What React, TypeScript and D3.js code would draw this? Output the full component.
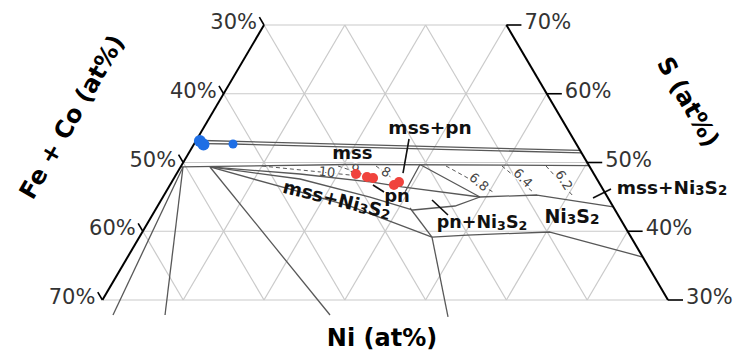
import React, { useEffect, useRef } from "react";
import * as d3 from "d3";

// all compositions are [Ni, S] in at%, Fe+Co is the remainder
type Pt = [number, number];

const sTicks = [30, 40, 50, 60, 70];
const gridSteps = [10, 20, 30, 40, 50, 60];

const blueSamples = [
  { c: [0.5, 53.13] as Pt, r: 6 },
  { c: [1.2, 52.62] as Pt, r: 6 },
  { c: [4.82, 52.69] as Pt, r: 4.5 },
];

const redSamples: Pt[] = [
  [22.22, 48.33],
  [23.8, 47.89],
  [24.62, 47.75],
  [27.72, 46.73],
  [28.13, 47.16],
];

const mssUpperLines: Pt[][] = [
  [[0.85, 53.2], [48.25, 51.75]],
  [[1.13, 52.76], [4.82, 52.69], [48.6, 51.4]],
];

const mssLowerLine: Pt[] = [[0, 49.35], [20.79, 49.71], [50.44, 49.56]];

const fanLines: Pt[][] = [
  [[0.3, 49.35], [2.4, 27.82]],
  [[0.3, 49.35], [8.84, 27.82]],
  [[3.64, 49.35], [29.26, 27.82]],
  [[3.64, 49.35], [15.29, 48.33], [24.79, 47.16], [28.86, 46.44], [39.24, 44.98]],
  [[3.64, 49.35], [15.66, 47.6], [25.63, 44.98], [31.9, 43.09], [36.8, 43.67], [39.24, 44.98]],
  [[3.64, 49.35], [16.6, 45.71], [23.81, 43.67], [36.21, 39.16]],
  [[31.38, 43.38], [36.21, 39.16]],
];

const threePhaseTriangle: Pt[] = [[29.6, 45.71], [29.45, 49.71], [39.24, 44.98]];

const ni3s2Lines: Pt[][] = [
  [[39.24, 44.98], [46.15, 45.27], [56.47, 43.53]],
  [[36.21, 39.16], [40.4, 39.45], [50.45, 39.89], [63.75, 36.25]],
  [[36.21, 39.16], [44.01, 27.53]],
];

const pointerLines: Pt[][] = [
  [[26.24, 53.42], [27.97, 48.47]],
  [[25.12, 46.73], [27.0, 45.71]],
  [[33.52, 44.55], [36.59, 42.36]],
  [[53.3, 44.84], [54.87, 46.15]],
];

const contours = [
  { label: "10", line: [[10.01, 49.49], [21.55, 48.18]] as Pt[], at: [18.49, 48.62] as Pt, angle: 6 },
  { label: "9", line: [[19.41, 49.49], [22.96, 48.33]] as Pt[], at: [21.74, 49.05] as Pt, angle: 25 },
  { label: "8", line: [[24.12, 49.49], [26.97, 47.75]] as Pt[], at: [25.79, 48.62] as Pt, angle: 30 },
  { label: "6.8", line: [[32.78, 49.49], [40.81, 45.56]] as Pt[], at: [38.03, 47.16] as Pt, angle: 40 },
  { label: "6.4", line: [[39.71, 49.49], [45.44, 45.71]] as Pt[], at: [43.18, 47.75] as Pt, angle: 45 },
  { label: "6.2", line: [[45.16, 49.49], [50.68, 45.13]] as Pt[], at: [48.4, 47.45] as Pt, angle: 58 },
];

const phaseLabels = [
  { text: "mss", at: [20.13, 51.6] as Pt, size: 18, angle: 0 },
  { text: "mss+pn", at: [27.96, 55.16] as Pt, size: 18.5, angle: 0 },
  { text: "pn", at: [28.83, 45.27] as Pt, size: 18, angle: 0 },
  { text: "mss+Ni3S2", at: [21.69, 44.69] as Pt, size: 18.5, angle: 14 },
  { text: "pn+Ni3S2", at: [41.31, 41.35] as Pt, size: 17.5, angle: 0 },
  { text: "Ni3S2", at: [52.01, 42.22] as Pt, size: 19, angle: 0 },
  { text: "mss+Ni3S2", at: [62.27, 46.44] as Pt, size: 18.5, angle: 0 },
];

const FONT = "'DejaVu Sans', Verdana, sans-serif";
const LINE = "#585858";

const App = () => {
  const svgRef = useRef<SVGSVGElement>(null);

  useEffect(() => {
    const width = 736;
    const height = 361;
    const svg = d3.select(svgRef.current);
    svg.selectAll("*").remove();
    svg.attr("width", width).attr("height", height);

    // ternary projection: horizontal = Ni + S/2, vertical = S
    const x = d3.scaleLinear().domain([15, 85]).range([102.4, 668]);
    const y = d3.scaleLinear().domain([30, 70]).range([300, 25]);
    const px = (p: Pt): [number, number] => [x(p[0] + p[1] / 2), y(p[1])];
    const line = d3.line<Pt>().x(d => px(d)[0]).y(d => px(d)[1]);

    svg.append("rect").attr("width", width).attr("height", height).attr("fill", "white");

    // grid
    const grid: Pt[][] = [];
    sTicks.forEach(s => grid.push([[0, s], [100 - s, s]]));
    gridSteps.forEach(n => {
      const top = Math.min(70, 100 - n);
      if (top > 30) grid.push([[n, 30], [n, top]]);
      grid.push([[70 - n, 30], [100 - top - n, top]]);
    });
    svg.append("g").selectAll("path").data(grid).enter().append("path")
      .attr("d", d => line(d))
      .attr("fill", "none").attr("stroke", "#cacaca").attr("stroke-width", 1.2);

    // dashed contours
    const cg = svg.append("g");
    cg.selectAll("path").data(contours).enter().append("path")
      .attr("d", d => line(d.line))
      .attr("fill", "none").attr("stroke", LINE).attr("stroke-width", 1)
      .attr("stroke-dasharray", "4,3");
    cg.selectAll("text").data(contours).enter().append("text")
      .attr("transform", d => { const p = px(d.at); return `translate(${p[0]},${p[1]}) rotate(${d.angle})`; })
      .attr("text-anchor", "middle").attr("dominant-baseline", "central")
      .style("font-family", FONT).style("font-size", "13px")
      .attr("fill", "#444").attr("stroke", "white").attr("stroke-width", 3)
      .attr("paint-order", "stroke")
      .text(d => d.label);

    // phase boundaries
    const solid = [...mssUpperLines, mssLowerLine, ...fanLines, threePhaseTriangle, ...ni3s2Lines];
    svg.append("g").selectAll("path").data(solid).enter().append("path")
      .attr("d", d => line(d))
      .attr("fill", "none").attr("stroke", LINE).attr("stroke-width", 1.3)
      .attr("stroke-linejoin", "round");
    svg.append("g").selectAll("path").data(pointerLines).enter().append("path")
      .attr("d", d => line(d))
      .attr("fill", "none").attr("stroke", "#111").attr("stroke-width", 1.6);

    // axes
    const axes: Pt[][] = [[[0, 70], [0, 30]], [[30, 70], [70, 30]]];
    svg.append("g").selectAll("path").data(axes).enter().append("path")
      .attr("d", d => line(d)).attr("fill", "none").attr("stroke", "#000").attr("stroke-width", 2);

    const tickG = svg.append("g");
    sTicks.forEach(s => {
      // left axis (Fe+Co), ticks along constant Fe+Co
      const a = px([0, s]);
      const b = px([-1.15, s + 1.15]);
      tickG.append("line").attr("x1", a[0]).attr("y1", a[1]).attr("x2", b[0]).attr("y2", b[1])
        .attr("stroke", "#000").attr("stroke-width", 1.6);
      tickG.append("text").attr("x", a[0] - 7).attr("y", a[1] - 3)
        .attr("text-anchor", "end").attr("dominant-baseline", "central")
        .style("font-family", FONT).style("font-size", "21px").attr("fill", "#333")
        .text(`${100 - s}%`);
      // right axis (S), horizontal ticks
      const c = px([100 - s, s]);
      const e = px([100 - s + 1.86, s]);
      tickG.append("line").attr("x1", c[0]).attr("y1", c[1]).attr("x2", e[0]).attr("y2", e[1])
        .attr("stroke", "#000").attr("stroke-width", 1.6);
      tickG.append("text").attr("x", e[0] + 3).attr("y", e[1] - 3)
        .attr("dominant-baseline", "central")
        .style("font-family", FONT).style("font-size", "21px").attr("fill", "#333")
        .text(`${s}%`);
    });

    // samples
    svg.append("g").selectAll("circle").data(blueSamples).enter().append("circle")
      .attr("cx", d => px(d.c)[0]).attr("cy", d => px(d.c)[1]).attr("r", d => d.r)
      .attr("fill", "#1f6fe5");
    svg.append("g").selectAll("circle").data(redSamples).enter().append("circle")
      .attr("cx", d => px(d)[0]).attr("cy", d => px(d)[1]).attr("r", 5)
      .attr("fill", "#f0433d");

    // phase labels with subscript digits
    const lg = svg.append("g");
    phaseLabels.forEach(l => {
      const p = px(l.at);
      const t = lg.append("text")
        .attr("transform", `translate(${p[0]},${p[1]}) rotate(${l.angle})`)
        .attr("text-anchor", "middle").attr("dominant-baseline", "central")
        .style("font-family", FONT).style("font-weight", "bold").style("font-size", `${l.size}px`)
        .attr("fill", "#111");
      const shift = l.size * 0.15;
      let prevSub = false;
      l.text.split(/(\d)/).filter(s => s.length).forEach(part => {
        const sub = /\d/.test(part);
        const ts = t.append("tspan").text(part);
        if (sub) ts.style("font-size", `${l.size * 0.72}px`).attr("dy", prevSub ? 0 : shift);
        else if (prevSub) ts.attr("dy", -shift);
        prevSub = sub;
      });
    });

    // axis titles
    const titles = [
      { text: "Fe + Co (at%)", cx: 72, cy: 117, angle: -60 },
      { text: "S (at%)", cx: 688, cy: 102, angle: 60 },
      { text: "Ni (at%)", cx: 382, cy: 338, angle: 0 },
    ];
    svg.append("g").selectAll("text").data(titles).enter().append("text")
      .attr("transform", d => `translate(${d.cx},${d.cy}) rotate(${d.angle})`)
      .attr("text-anchor", "middle").attr("dominant-baseline", "central")
      .style("font-family", FONT).style("font-weight", "bold").style("font-size", "24px")
      .attr("fill", "#000")
      .text(d => d.text);
  }, []);

  return (
    <div style={{ position: "absolute", left: 0, top: 0 }}>
      <svg ref={svgRef} style={{ display: "block" }}></svg>
    </div>
  );
};

export default App;
